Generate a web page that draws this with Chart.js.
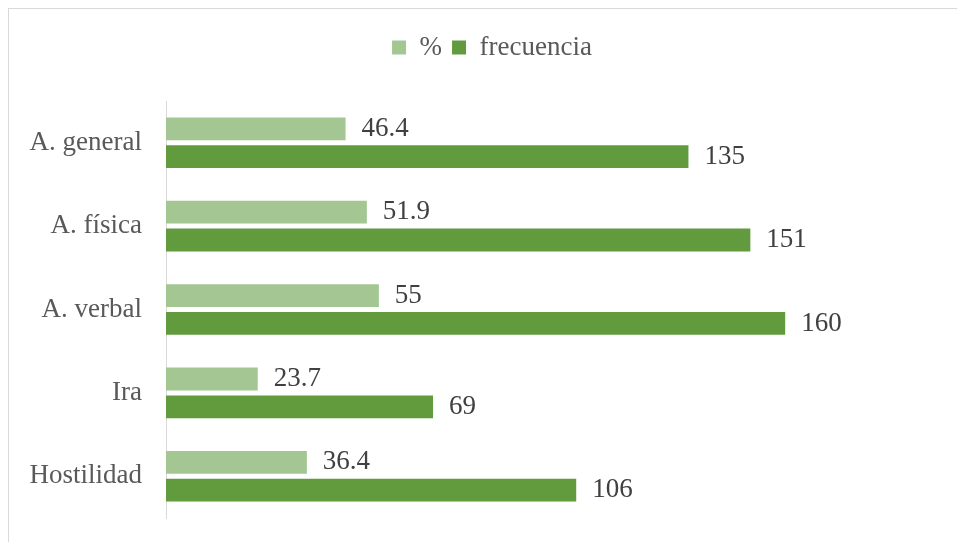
<!DOCTYPE html>
<html>
<head>
<meta charset="utf-8">
<script src="https://cdn.jsdelivr.net/npm/chart.js@4/dist/chart.umd.min.js"></script>
<style>
  html, body { margin: 0; padding: 0; background: #fff; overflow: hidden; }
  #frame { position: absolute; left: 8px; top: 8px; width: 980px; height: 560px; border: 1px solid #d9d9d9; }
  #wrap { position: absolute; left: 0; top: 0; width: 957px; height: 542px; }
</style>
</head>
<body>
<div id="frame"></div>
<div id="wrap"><canvas id="myChart"></canvas></div>
<script>
const categorias = ['A. general', 'A. física', 'A. verbal', 'Ira', 'Hostilidad'];
const porcentaje = [46.4, 51.9, 55, 23.7, 36.4];
const frecuencia = [135, 151, 160, 69, 106];

const fuente = 'Liberation Serif, Times New Roman, serif';

// etiquetas de valor al final de cada barra
const etiquetas = {
    id: 'etiquetas',
    afterDatasetsDraw(chart) {
        const ctx = chart.ctx;
        ctx.save();
        ctx.font = '27px ' + fuente;
        ctx.fillStyle = '#404040';
        ctx.textAlign = 'left';
        ctx.textBaseline = 'middle';
        chart.data.datasets.forEach((ds, i) => {
            chart.getDatasetMeta(i).data.forEach((bar, j) => {
                ctx.fillText(String(ds.data[j]), bar.x + 16, bar.y);
            });
        });
        ctx.restore();
    }
};

// alto fijo para la leyenda y un poco corrida a la derecha
const leyenda = {
    id: 'leyenda',
    afterInit(chart) {
        const fit = chart.legend.fit;
        chart.legend.fit = function () {
            fit.call(this);
            this.height = 77;
        };
    },
    afterLayout(chart) {
        chart.legend.left += 22;
        chart.legend.right += 22;
    }
};

let ctx = document.getElementById('myChart').getContext('2d');

let grafico = new Chart(ctx, {
    type: 'bar',
    data: {
        labels: categorias,
        datasets: [{
            label: '%',
            data: porcentaje,
            backgroundColor: '#a3c693',
            barPercentage: 0.82,
            categoryPercentage: 0.667
        }, {
            label: 'frecuencia',
            data: frecuencia,
            backgroundColor: '#629a3e',
            barPercentage: 0.82,
            categoryPercentage: 0.667
        }]
    },
    options: {
        indexAxis: 'y',
        responsive: true,
        maintainAspectRatio: false,
        animation: false,
        layout: { padding: { left: 0, right: 17, top: 24, bottom: 24 } },
        plugins: {
            legend: {
                position: 'top',
                labels: {
                    boxWidth: 14,
                    boxHeight: 14,
                    padding: 10,
                    color: '#595959',
                    font: { family: fuente, size: 27 }
                }
            },
            tooltip: { enabled: false }
        },
        scales: {
            x: {
                display: false,
                min: 0,
                max: 200
            },
            y: {
                grid: { display: false, drawTicks: true, tickLength: 18 },
                border: { color: '#d9d9d9', width: 1 },
                ticks: {
                    padding: 6,
                    color: '#595959',
                    font: { family: fuente, size: 27 }
                },
                afterFit(scale) { scale.width = 166; }
            }
        }
    },
    plugins: [etiquetas, leyenda]
});
</script>
</body>
</html>
